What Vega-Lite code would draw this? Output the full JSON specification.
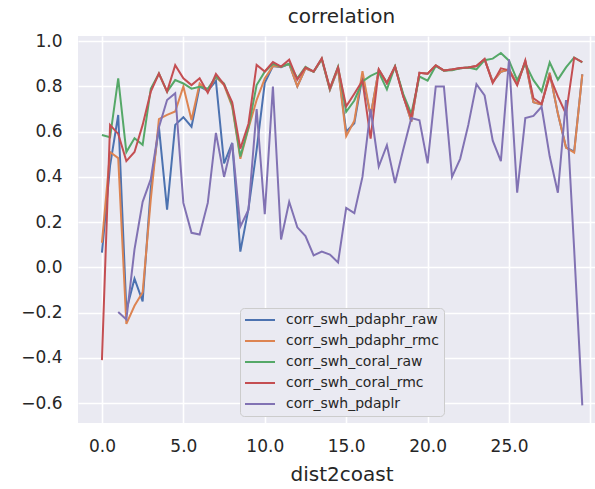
{
  "$schema": "https://vega.github.io/schema/vega-lite/v6.json",
  "autosize": {"type": "none"},
  "width": 517,
  "height": 387,
  "padding": {"left": 78, "top": 36, "right": 0, "bottom": 66},
  "background": "white",
  "title": {
    "text": "correlation",
    "frame": "group",
    "anchor": "middle",
    "dx": 5,
    "offset": 5,
    "font": "DejaVu Sans",
    "fontSize": 20,
    "fontWeight": "normal",
    "color": "#262626"
  },
  "data": {
    "values": [
      {"dist2coast": 0.0, "corr_swh_pdaphr_raw": 0.065, "corr_swh_pdaphr_rmc": 0.109, "corr_swh_coral_raw": 0.585, "corr_swh_coral_rmc": -0.41, "corr_swh_pdaplr": null},
      {"dist2coast": 0.5, "corr_swh_pdaphr_raw": 0.45, "corr_swh_pdaphr_rmc": 0.51, "corr_swh_coral_raw": 0.575, "corr_swh_coral_rmc": 0.63, "corr_swh_pdaplr": null},
      {"dist2coast": 1.0, "corr_swh_pdaphr_raw": 0.674, "corr_swh_pdaphr_rmc": 0.483, "corr_swh_coral_raw": 0.836, "corr_swh_coral_rmc": 0.59, "corr_swh_pdaplr": -0.197},
      {"dist2coast": 1.5, "corr_swh_pdaphr_raw": -0.19, "corr_swh_pdaphr_rmc": -0.25, "corr_swh_coral_raw": 0.51, "corr_swh_coral_rmc": 0.47, "corr_swh_pdaplr": -0.23},
      {"dist2coast": 2.0, "corr_swh_pdaphr_raw": -0.05, "corr_swh_pdaphr_rmc": -0.17, "corr_swh_coral_raw": 0.571, "corr_swh_coral_rmc": 0.51, "corr_swh_pdaplr": 0.08},
      {"dist2coast": 2.5, "corr_swh_pdaphr_raw": -0.15, "corr_swh_pdaphr_rmc": -0.11, "corr_swh_coral_raw": 0.542, "corr_swh_coral_rmc": 0.63, "corr_swh_pdaplr": 0.29},
      {"dist2coast": 3.0, "corr_swh_pdaphr_raw": 0.35, "corr_swh_pdaphr_rmc": 0.3, "corr_swh_coral_raw": 0.79, "corr_swh_coral_rmc": 0.777, "corr_swh_pdaplr": 0.39},
      {"dist2coast": 3.5, "corr_swh_pdaphr_raw": 0.62, "corr_swh_pdaphr_rmc": 0.655, "corr_swh_coral_raw": 0.857, "corr_swh_coral_rmc": 0.857, "corr_swh_pdaplr": 0.62},
      {"dist2coast": 4.0, "corr_swh_pdaphr_raw": 0.255, "corr_swh_pdaphr_rmc": 0.674, "corr_swh_coral_raw": 0.777, "corr_swh_coral_rmc": 0.777, "corr_swh_pdaplr": 0.74},
      {"dist2coast": 4.5, "corr_swh_pdaphr_raw": 0.63, "corr_swh_pdaphr_rmc": 0.689, "corr_swh_coral_raw": 0.828, "corr_swh_coral_rmc": 0.894, "corr_swh_pdaplr": 0.77},
      {"dist2coast": 5.0, "corr_swh_pdaphr_raw": 0.664, "corr_swh_pdaphr_rmc": 0.8, "corr_swh_coral_raw": 0.813, "corr_swh_coral_rmc": 0.836, "corr_swh_pdaplr": 0.285},
      {"dist2coast": 5.5, "corr_swh_pdaphr_raw": 0.622, "corr_swh_pdaphr_rmc": 0.652, "corr_swh_coral_raw": 0.79, "corr_swh_coral_rmc": 0.806, "corr_swh_pdaplr": 0.153},
      {"dist2coast": 6.0, "corr_swh_pdaphr_raw": 0.8, "corr_swh_pdaphr_rmc": 0.813, "corr_swh_coral_raw": 0.799, "corr_swh_coral_rmc": 0.836, "corr_swh_pdaplr": 0.145},
      {"dist2coast": 6.5, "corr_swh_pdaphr_raw": 0.78, "corr_swh_pdaphr_rmc": 0.777, "corr_swh_coral_raw": 0.79, "corr_swh_coral_rmc": 0.772, "corr_swh_pdaplr": 0.285},
      {"dist2coast": 7.0, "corr_swh_pdaphr_raw": 0.825, "corr_swh_pdaphr_rmc": 0.843, "corr_swh_coral_raw": 0.843, "corr_swh_coral_rmc": 0.855, "corr_swh_pdaplr": 0.595},
      {"dist2coast": 7.5, "corr_swh_pdaphr_raw": 0.46, "corr_swh_pdaphr_rmc": 0.806, "corr_swh_coral_raw": 0.813, "corr_swh_coral_rmc": 0.808, "corr_swh_pdaplr": 0.4},
      {"dist2coast": 8.0, "corr_swh_pdaphr_raw": 0.55, "corr_swh_pdaphr_rmc": 0.711, "corr_swh_coral_raw": 0.718, "corr_swh_coral_rmc": 0.73, "corr_swh_pdaplr": 0.55},
      {"dist2coast": 8.5, "corr_swh_pdaphr_raw": 0.07, "corr_swh_pdaphr_rmc": 0.48, "corr_swh_coral_raw": 0.49, "corr_swh_coral_rmc": 0.525, "corr_swh_pdaplr": 0.18},
      {"dist2coast": 9.0, "corr_swh_pdaphr_raw": 0.26, "corr_swh_pdaphr_rmc": 0.615, "corr_swh_coral_raw": 0.62, "corr_swh_coral_rmc": 0.635, "corr_swh_pdaplr": 0.255},
      {"dist2coast": 9.5, "corr_swh_pdaphr_raw": 0.52, "corr_swh_pdaphr_rmc": 0.74, "corr_swh_coral_raw": 0.806, "corr_swh_coral_rmc": 0.895, "corr_swh_pdaplr": 0.7},
      {"dist2coast": 10.0, "corr_swh_pdaphr_raw": 0.816, "corr_swh_pdaphr_rmc": 0.835, "corr_swh_coral_raw": 0.865, "corr_swh_coral_rmc": 0.866, "corr_swh_pdaplr": 0.235},
      {"dist2coast": 10.5, "corr_swh_pdaphr_raw": 0.89, "corr_swh_pdaphr_rmc": 0.89, "corr_swh_coral_raw": 0.9, "corr_swh_coral_rmc": 0.908, "corr_swh_pdaplr": 0.8},
      {"dist2coast": 11.0, "corr_swh_pdaphr_raw": 0.885, "corr_swh_pdaphr_rmc": 0.887, "corr_swh_coral_raw": 0.887, "corr_swh_coral_rmc": 0.888, "corr_swh_pdaplr": 0.123},
      {"dist2coast": 11.5, "corr_swh_pdaphr_raw": 0.9, "corr_swh_pdaphr_rmc": 0.9, "corr_swh_coral_raw": 0.9, "corr_swh_coral_rmc": 0.918, "corr_swh_pdaplr": 0.29},
      {"dist2coast": 12.0, "corr_swh_pdaphr_raw": 0.8, "corr_swh_pdaphr_rmc": 0.8, "corr_swh_coral_raw": 0.836, "corr_swh_coral_rmc": 0.83, "corr_swh_pdaplr": 0.177},
      {"dist2coast": 12.5, "corr_swh_pdaphr_raw": 0.88, "corr_swh_pdaphr_rmc": 0.88, "corr_swh_coral_raw": 0.887, "corr_swh_coral_rmc": 0.884, "corr_swh_pdaplr": 0.138},
      {"dist2coast": 13.0, "corr_swh_pdaphr_raw": 0.865, "corr_swh_pdaphr_rmc": 0.865, "corr_swh_coral_raw": 0.865, "corr_swh_coral_rmc": 0.866, "corr_swh_pdaplr": 0.053},
      {"dist2coast": 13.5, "corr_swh_pdaphr_raw": 0.92, "corr_swh_pdaphr_rmc": 0.92, "corr_swh_coral_raw": 0.923, "corr_swh_coral_rmc": 0.925, "corr_swh_pdaplr": 0.07},
      {"dist2coast": 14.0, "corr_swh_pdaphr_raw": 0.785, "corr_swh_pdaphr_rmc": 0.785, "corr_swh_coral_raw": 0.79, "corr_swh_coral_rmc": 0.792, "corr_swh_pdaplr": 0.057},
      {"dist2coast": 14.5, "corr_swh_pdaphr_raw": 0.88, "corr_swh_pdaphr_rmc": 0.88, "corr_swh_coral_raw": 0.887, "corr_swh_coral_rmc": 0.885, "corr_swh_pdaplr": 0.022},
      {"dist2coast": 15.0, "corr_swh_pdaphr_raw": 0.6, "corr_swh_pdaphr_rmc": 0.58, "corr_swh_coral_raw": 0.688, "corr_swh_coral_rmc": 0.712, "corr_swh_pdaplr": 0.263},
      {"dist2coast": 15.5, "corr_swh_pdaphr_raw": 0.637, "corr_swh_pdaphr_rmc": 0.648, "corr_swh_coral_raw": 0.738, "corr_swh_coral_rmc": 0.768, "corr_swh_pdaplr": 0.24},
      {"dist2coast": 16.0, "corr_swh_pdaphr_raw": 0.846, "corr_swh_pdaphr_rmc": 0.868, "corr_swh_coral_raw": 0.822, "corr_swh_coral_rmc": 0.826, "corr_swh_pdaplr": 0.4},
      {"dist2coast": 16.5, "corr_swh_pdaphr_raw": 0.67, "corr_swh_pdaphr_rmc": 0.67, "corr_swh_coral_raw": 0.847, "corr_swh_coral_rmc": 0.569, "corr_swh_pdaplr": 0.7},
      {"dist2coast": 17.0, "corr_swh_pdaphr_raw": 0.875, "corr_swh_pdaphr_rmc": 0.875, "corr_swh_coral_raw": 0.864, "corr_swh_coral_rmc": 0.875, "corr_swh_pdaplr": 0.446},
      {"dist2coast": 17.5, "corr_swh_pdaphr_raw": 0.815, "corr_swh_pdaphr_rmc": 0.815, "corr_swh_coral_raw": 0.787, "corr_swh_coral_rmc": 0.815, "corr_swh_pdaplr": 0.54},
      {"dist2coast": 18.0, "corr_swh_pdaphr_raw": 0.888, "corr_swh_pdaphr_rmc": 0.888, "corr_swh_coral_raw": 0.888, "corr_swh_coral_rmc": 0.888, "corr_swh_pdaplr": 0.373},
      {"dist2coast": 18.5, "corr_swh_pdaphr_raw": 0.76, "corr_swh_pdaphr_rmc": 0.76, "corr_swh_coral_raw": 0.767, "corr_swh_coral_rmc": 0.756, "corr_swh_pdaplr": 0.52},
      {"dist2coast": 19.0, "corr_swh_pdaphr_raw": 0.645, "corr_swh_pdaphr_rmc": 0.645, "corr_swh_coral_raw": 0.679, "corr_swh_coral_rmc": 0.66, "corr_swh_pdaplr": 0.66},
      {"dist2coast": 19.5, "corr_swh_pdaphr_raw": 0.86, "corr_swh_pdaphr_rmc": 0.86, "corr_swh_coral_raw": 0.844, "corr_swh_coral_rmc": 0.86, "corr_swh_pdaplr": 0.65},
      {"dist2coast": 20.0, "corr_swh_pdaphr_raw": 0.856, "corr_swh_pdaphr_rmc": 0.856, "corr_swh_coral_raw": 0.826, "corr_swh_coral_rmc": 0.856, "corr_swh_pdaplr": 0.46},
      {"dist2coast": 20.5, "corr_swh_pdaphr_raw": 0.893, "corr_swh_pdaphr_rmc": 0.893, "corr_swh_coral_raw": 0.89, "corr_swh_coral_rmc": 0.893, "corr_swh_pdaplr": 0.8},
      {"dist2coast": 21.0, "corr_swh_pdaphr_raw": 0.87, "corr_swh_pdaphr_rmc": 0.87, "corr_swh_coral_raw": 0.87, "corr_swh_coral_rmc": 0.871, "corr_swh_pdaplr": 0.8},
      {"dist2coast": 21.5, "corr_swh_pdaphr_raw": 0.875, "corr_swh_pdaphr_rmc": 0.875, "corr_swh_coral_raw": 0.872, "corr_swh_coral_rmc": 0.875, "corr_swh_pdaplr": 0.4},
      {"dist2coast": 22.0, "corr_swh_pdaphr_raw": 0.88, "corr_swh_pdaphr_rmc": 0.88, "corr_swh_coral_raw": 0.88, "corr_swh_coral_rmc": 0.881, "corr_swh_pdaplr": 0.48},
      {"dist2coast": 22.5, "corr_swh_pdaphr_raw": 0.884, "corr_swh_pdaphr_rmc": 0.884, "corr_swh_coral_raw": 0.884, "corr_swh_coral_rmc": 0.884, "corr_swh_pdaplr": 0.63},
      {"dist2coast": 23.0, "corr_swh_pdaphr_raw": 0.89, "corr_swh_pdaphr_rmc": 0.89, "corr_swh_coral_raw": 0.875, "corr_swh_coral_rmc": 0.89, "corr_swh_pdaplr": 0.81},
      {"dist2coast": 23.5, "corr_swh_pdaphr_raw": 0.92, "corr_swh_pdaphr_rmc": 0.92, "corr_swh_coral_raw": 0.916, "corr_swh_coral_rmc": 0.921, "corr_swh_pdaplr": 0.76},
      {"dist2coast": 24.0, "corr_swh_pdaphr_raw": 0.82, "corr_swh_pdaphr_rmc": 0.82, "corr_swh_coral_raw": 0.923, "corr_swh_coral_rmc": 0.815, "corr_swh_pdaplr": 0.56},
      {"dist2coast": 24.5, "corr_swh_pdaphr_raw": 0.865, "corr_swh_pdaphr_rmc": 0.865, "corr_swh_coral_raw": 0.948, "corr_swh_coral_rmc": 0.88, "corr_swh_pdaplr": 0.47},
      {"dist2coast": 25.0, "corr_swh_pdaphr_raw": 0.875, "corr_swh_pdaphr_rmc": 0.875, "corr_swh_coral_raw": 0.914, "corr_swh_coral_rmc": 0.871, "corr_swh_pdaplr": 0.92},
      {"dist2coast": 25.5, "corr_swh_pdaphr_raw": 0.81, "corr_swh_pdaphr_rmc": 0.81, "corr_swh_coral_raw": 0.828, "corr_swh_coral_rmc": 0.805, "corr_swh_pdaplr": 0.33},
      {"dist2coast": 26.0, "corr_swh_pdaphr_raw": 0.91, "corr_swh_pdaphr_rmc": 0.91, "corr_swh_coral_raw": 0.9, "corr_swh_coral_rmc": 0.915, "corr_swh_pdaplr": 0.66},
      {"dist2coast": 26.5, "corr_swh_pdaphr_raw": 0.73, "corr_swh_pdaphr_rmc": 0.73, "corr_swh_coral_raw": 0.828, "corr_swh_coral_rmc": 0.748, "corr_swh_pdaplr": 0.67},
      {"dist2coast": 27.0, "corr_swh_pdaphr_raw": 0.72, "corr_swh_pdaphr_rmc": 0.72, "corr_swh_coral_raw": 0.778, "corr_swh_coral_rmc": 0.722, "corr_swh_pdaplr": 0.71},
      {"dist2coast": 27.5, "corr_swh_pdaphr_raw": 0.86, "corr_swh_pdaphr_rmc": 0.86, "corr_swh_coral_raw": 0.906, "corr_swh_coral_rmc": 0.845, "corr_swh_pdaplr": 0.49},
      {"dist2coast": 28.0, "corr_swh_pdaphr_raw": 0.68, "corr_swh_pdaphr_rmc": 0.68, "corr_swh_coral_raw": 0.83, "corr_swh_coral_rmc": 0.756, "corr_swh_pdaplr": 0.33},
      {"dist2coast": 28.5, "corr_swh_pdaphr_raw": 0.53, "corr_swh_pdaphr_rmc": 0.53, "corr_swh_coral_raw": 0.884, "corr_swh_coral_rmc": 0.678, "corr_swh_pdaplr": 0.74},
      {"dist2coast": 29.0, "corr_swh_pdaphr_raw": 0.512, "corr_swh_pdaphr_rmc": 0.508, "corr_swh_coral_raw": 0.928, "corr_swh_coral_rmc": 0.927, "corr_swh_pdaplr": 0.08},
      {"dist2coast": 29.5, "corr_swh_pdaphr_raw": 0.853, "corr_swh_pdaphr_rmc": 0.853, "corr_swh_coral_raw": 0.906, "corr_swh_coral_rmc": 0.907, "corr_swh_pdaplr": -0.61}
    ]
  },
  "transform": [
    {
      "fold": ["corr_swh_pdaphr_raw", "corr_swh_pdaphr_rmc", "corr_swh_coral_raw", "corr_swh_coral_rmc", "corr_swh_pdaplr"],
      "as": ["series", "value"]
    }
  ],
  "mark": {"type": "line", "strokeWidth": 2, "interpolate": "linear"},
  "encoding": {
    "x": {
      "field": "dist2coast",
      "type": "quantitative",
      "scale": {"domain": [-1.47, 30.28], "nice": false, "zero": false},
      "axis": {
        "values": [0, 5, 10, 15, 20, 25, 30],
        "labelExpr": "datum.value == 30 ? '' : format(datum.value, '.1f')",
        "labelPadding": 15,
        "title": "dist2coast",
        "titleX": 263.5,
        "titleY": 57,
        "titleBaseline": "alphabetic",
        "titleAnchor": "middle",
        "titleAlign": "center"
      }
    },
    "y": {
      "field": "value",
      "type": "quantitative",
      "scale": {"domain": [-0.688, 1.023], "nice": false, "zero": false},
      "axis": {
        "values": [-0.6, -0.4, -0.2, 0, 0.2, 0.4, 0.6, 0.8, 1.0],
        "format": ".1f",
        "labelPadding": 16,
        "title": null
      }
    },
    "color": {
      "field": "series",
      "type": "nominal",
      "scale": {
        "domain": ["corr_swh_pdaphr_raw", "corr_swh_pdaphr_rmc", "corr_swh_coral_raw", "corr_swh_coral_rmc", "corr_swh_pdaplr"],
        "range": ["#4C72B0", "#DD8452", "#55A868", "#C44E52", "#8172B3"]
      },
      "legend": {
        "orient": "none",
        "legendX": 162,
        "legendY": 272,
        "title": null,
        "fillColor": "#EAEAF2",
        "strokeColor": "#CCCCCC",
        "cornerRadius": 4,
        "padding": 5,
        "symbolType": "M-3,0H3",
        "symbolSize": 100,
        "symbolStrokeWidth": 2,
        "symbolOffset": 8,
        "labelOffset": 19,
        "rowPadding": 7,
        "labelFont": "DejaVu Sans",
        "labelFontSize": 14,
        "labelColor": "#262626"
      }
    }
  },
  "config": {
    "view": {"fill": "#EAEAF2", "stroke": null},
    "axis": {
      "grid": true,
      "gridColor": "#FFFFFF",
      "gridWidth": 1.6,
      "gridOpacity": 1,
      "domain": false,
      "ticks": false,
      "labelFont": "DejaVu Sans",
      "labelFontSize": 17,
      "labelColor": "#262626",
      "titleFont": "DejaVu Sans",
      "titleFontSize": 20,
      "titleFontWeight": "normal",
      "titleColor": "#262626"
    }
  }
}
